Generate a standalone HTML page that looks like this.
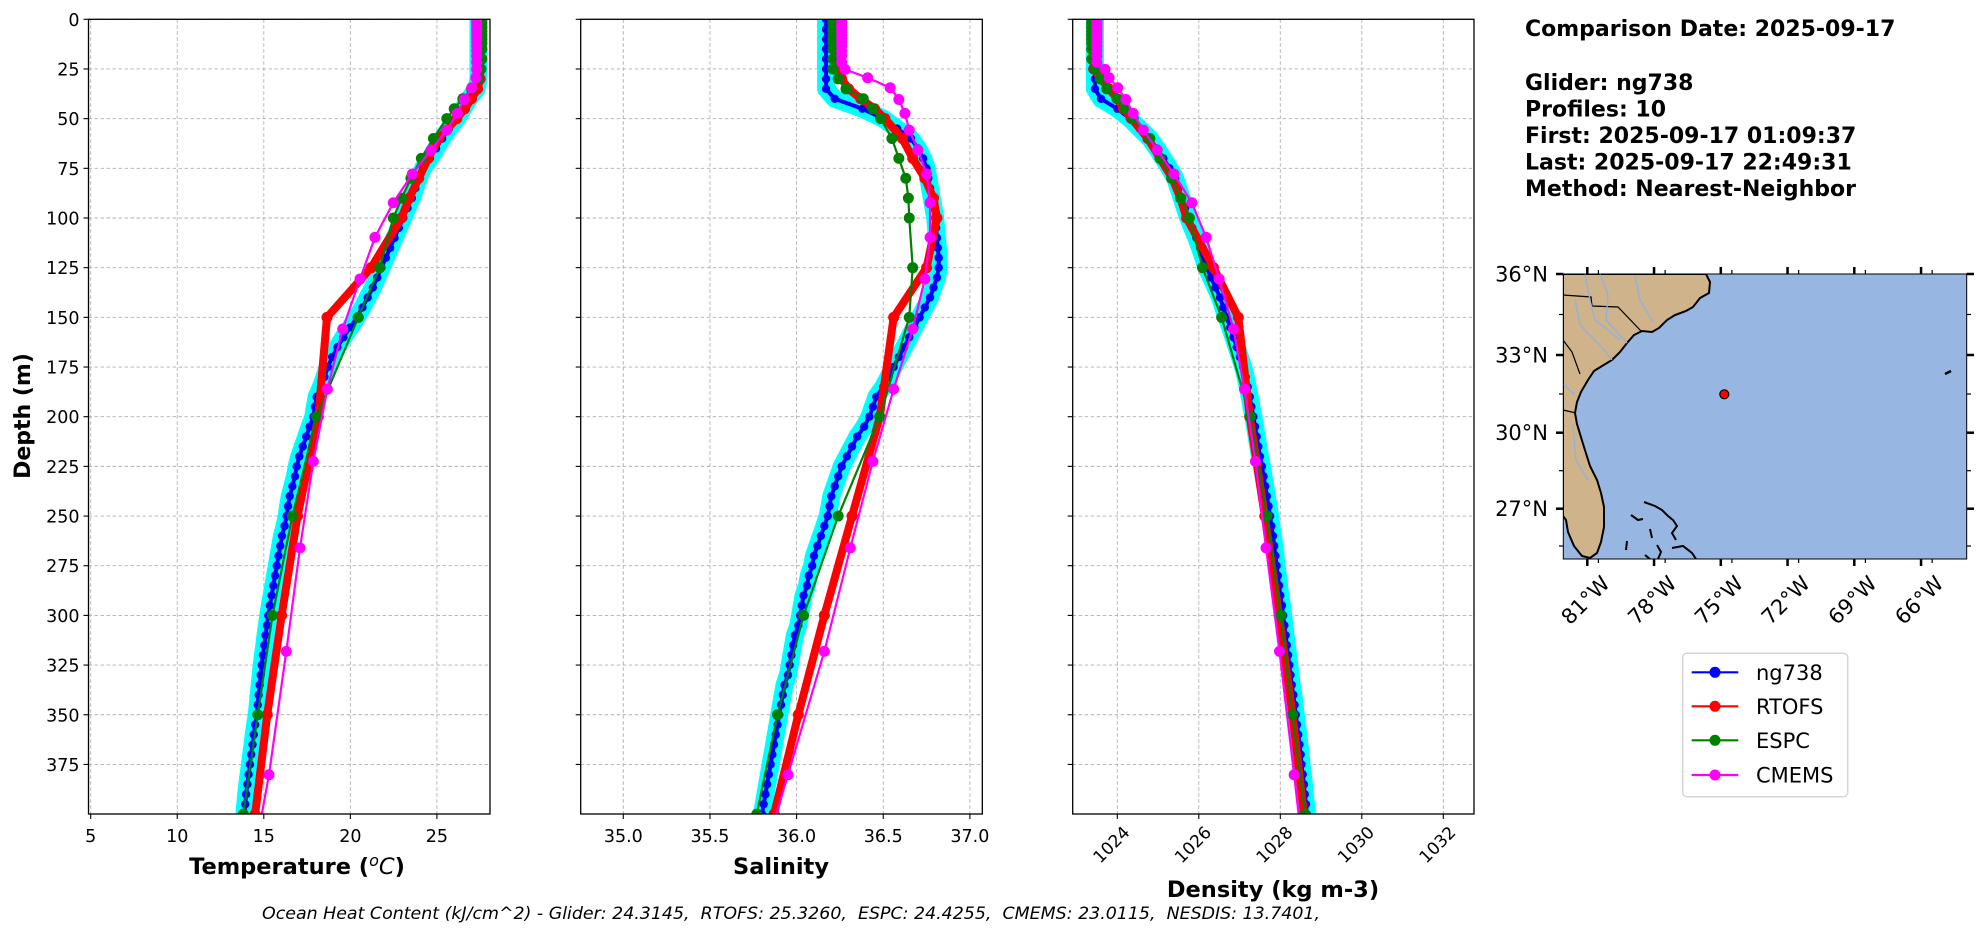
<!DOCTYPE html>
<html><head><meta charset="utf-8"><style>
html,body{margin:0;padding:0;background:#fff;}
svg{display:block;font-family:"DejaVu Sans","Liberation Sans",sans-serif;}
</style></head><body>
<svg id="fig" width="1978" height="934" viewBox="0 0 1978 934" xmlns="http://www.w3.org/2000/svg">
<defs>
<clipPath id="clip0"><rect x="88.5" y="19.3" width="401.5" height="794.7"/></clipPath>
<clipPath id="clip1"><rect x="580.7" y="19.3" width="401.6" height="794.7"/></clipPath>
<clipPath id="clip2"><rect x="1072.7" y="19.3" width="401.3" height="794.7"/></clipPath>
<clipPath id="clipmap"><rect x="1563.3" y="274" width="403.4" height="285"/></clipPath>
</defs>
<g id="panels"></g>
<text transform="translate(30,416) rotate(-90)" text-anchor="middle" font-size="22" font-weight="bold">Depth (m)</text>
<text x="297" y="874" text-anchor="middle" font-size="22.5" font-weight="bold">Temperature (<tspan font-style="italic" font-weight="normal" dy="-8" font-size="16">o</tspan><tspan dy="8" font-style="italic" font-weight="normal">C</tspan>)</text>
<text x="781" y="874" text-anchor="middle" font-size="22.5" font-weight="bold">Salinity</text>
<text x="1273" y="897" text-anchor="middle" font-size="22.5" font-weight="bold">Density (kg m-3)</text>
<text x="262" y="919" font-size="16.5" font-style="italic" xml:space="preserve" style="white-space:pre" textLength="1058" lengthAdjust="spacingAndGlyphs">Ocean Heat Content (kJ/cm^2) - Glider: 24.3145,  RTOFS: 25.3260,  ESPC: 24.4255,  CMEMS: 23.0115,  NESDIS: 13.7401,</text>
<g font-size="22" font-weight="bold">
<text x="1525" y="36">Comparison Date: 2025-09-17</text>
<text x="1525" y="90">Glider: ng738</text>
<text x="1525" y="116.5">Profiles: 10</text>
<text x="1525" y="143">First: 2025-09-17 01:09:37</text>
<text x="1525" y="169.5">Last: 2025-09-17 22:49:31</text>
<text x="1525" y="196">Method: Nearest-Neighbor</text>
</g>
<g id="map">
<g clip-path="url(#clipmap)">
<rect x="1563.3" y="274" width="403.4" height="285" fill="#97b6e1"/>
<path fill="#cfb38a" stroke="#000" stroke-width="2" d="M1563,274 L1706,274 L1710,282 L1709,293 L1700,298 L1693,307 L1686,311 L1675,315 L1667,320 L1659,328 L1652,332 L1642,331 L1634,335 L1627,343 L1620,352 L1612,360 L1602,366 L1594,371 L1588,380 L1581,392 L1577,402 L1575,413 L1577,424 L1580,434 L1584,447 L1590,466 L1597,480 L1601,493 L1604,507 L1604,527 L1601,542 L1597,553 L1590,558 L1582,556 L1574,546 L1568,532 L1566,520 L1563,516 Z"/>
<path fill="none" stroke="#000" stroke-width="1.2" d="M1563,295 L1591,297 L1592,306 L1618,307 L1641,331 M1563,340 L1572,352 L1580,374 M1563,410 L1576,413"/>
<path fill="none" stroke="#8fb1e0" stroke-width="1.3" d="M1600,274 L1608,295 L1606,320 L1627,343 M1575,300 L1580,325 L1600,345 L1612,360 M1585,274 L1590,300 L1595,320 L1620,340 M1635,276 L1640,300 L1653,322 M1563,384 L1575,395 M1573,425 L1576,460 L1588,480"/>
<path fill="none" stroke="#000" stroke-width="2" d="M1644,502 L1655,506 L1662,510 L1668,516 L1673,520 L1677,526 L1672,533 L1676,540 M1631,515 L1638,520 L1643,519 M1650,529 L1652,538 M1627,541 L1626,550 M1657,545 L1661,552 L1658,559 M1672,548 L1683,546 L1692,553 L1696,559 M1645,555 L1650,559"/>
<path stroke="#000" stroke-width="2.5" d="M1945,374 L1951,371"/>
<circle cx="1724.3" cy="394.3" r="4.5" fill="#ff0000" stroke="#000" stroke-width="1.2"/>
</g>
<rect x="1563.3" y="274" width="403.4" height="285" fill="none" stroke="#000" stroke-width="1"/>
<g id="mapticks"></g>
</g>
<g>
<rect x="1682.7" y="653.3" width="165" height="143.4" rx="4" fill="#fff" stroke="#d6d6d6" stroke-width="1.5"/>
<g id="legend-items"></g>
</g>
</svg>
<script>
// ---------- data ----------
var depthTicks = [0,25,50,75,100,125,150,175,200,225,250,275,300,325,350,375];
var tempTicks = [5,10,15,20,25];
var salTicks = [35.0,35.5,36.0,36.5,37.0];
var salTickLabels = ["35.0","35.5","36.0","36.5","37.0"];
var denTicks = [1024,1026,1028,1030,1032];

var gliderDepth = [0,5,10,15,20,25,30,35,40,45,50,55,60,65,70,75,80,85,90,95,100,105,110,115,120,125,130,135,140,145,150,155,160,165,170,175,180,185,190,195,200,205,210,215,220,225,230,235,240,245,250,255,260,265,270,275,280,285,290,295,300,305,310,315,320,325,330,335,340,345,350,355,360,365,370,375,380,385,390,395,400];
var gliderTemp = [27.4,27.4,27.4,27.4,27.4,27.4,27.4,27.3,26.85,26.5,26.15,25.7,25.3,24.95,24.6,24.2,23.95,23.75,23.55,23.3,23.06,22.8,22.55,22.3,22.05,21.8,21.55,21.3,21.0,20.7,20.37,20.0,19.6,19.25,18.95,18.7,18.5,18.3,18.05,17.95,17.86,17.65,17.45,17.25,17.05,16.9,16.8,16.65,16.5,16.4,16.32,16.2,16.05,15.95,15.85,15.75,15.65,15.55,15.45,15.35,15.26,15.18,15.1,15.03,14.95,14.88,14.82,14.76,14.7,14.65,14.59,14.5,14.42,14.35,14.27,14.2,14.12,14.05,13.98,13.93,13.88];
var gliderSal = [36.17,36.17,36.17,36.17,36.17,36.17,36.17,36.17,36.22,36.38,36.50,36.58,36.66,36.70,36.73,36.75,36.76,36.77,36.78,36.79,36.80,36.805,36.81,36.815,36.82,36.82,36.81,36.79,36.77,36.74,36.71,36.68,36.65,36.62,36.59,36.56,36.53,36.50,36.46,36.44,36.42,36.39,36.35,36.32,36.29,36.26,36.24,36.22,36.20,36.19,36.18,36.16,36.14,36.12,36.10,36.09,36.07,36.06,36.04,36.03,36.02,36.01,35.99,35.98,35.97,35.96,35.95,35.93,35.92,35.91,35.90,35.89,35.88,35.87,35.86,35.85,35.84,35.83,35.82,35.81,35.80];
var gliderDen = [1023.45,1023.45,1023.45,1023.45,1023.45,1023.45,1023.45,1023.45,1023.6,1024.0,1024.31,1024.55,1024.8,1024.97,1025.13,1025.28,1025.42,1025.5,1025.58,1025.66,1025.74,1025.84,1025.94,1026.03,1026.11,1026.19,1026.3,1026.41,1026.52,1026.6,1026.68,1026.77,1026.85,1026.93,1027.01,1027.09,1027.15,1027.2,1027.25,1027.29,1027.34,1027.38,1027.42,1027.46,1027.5,1027.55,1027.59,1027.63,1027.67,1027.71,1027.75,1027.78,1027.82,1027.85,1027.88,1027.91,1027.94,1027.97,1028.0,1028.04,1028.07,1028.1,1028.13,1028.16,1028.19,1028.22,1028.25,1028.28,1028.32,1028.35,1028.38,1028.41,1028.44,1028.47,1028.5,1028.52,1028.55,1028.58,1028.6,1028.63,1028.65];

var rtofsDepth = [0,2,4,6,8,10,12,15,20,25,30,35,40,45,50,60,70,80,90,100,125,150,200,250,300,350,400];
var rtofsTemp = [27.5,27.5,27.5,27.5,27.5,27.5,27.5,27.5,27.5,27.5,27.5,27.35,27.0,26.6,26.15,25.1,24.5,23.95,23.4,22.95,21.2,18.65,18.15,16.95,16.03,15.2,14.5];
var rtofsSal = [36.24,36.24,36.24,36.24,36.24,36.24,36.24,36.24,36.24,36.24,36.26,36.3,36.37,36.45,36.51,36.61,36.67,36.74,36.79,36.81,36.75,36.56,36.48,36.32,36.16,36.01,35.87];
var rtofsDen = [1023.42,1023.42,1023.42,1023.42,1023.42,1023.42,1023.42,1023.42,1023.42,1023.42,1023.6,1023.8,1024.0,1024.15,1024.35,1024.75,1025.05,1025.35,1025.55,1025.70,1026.36,1026.97,1027.25,1027.62,1027.97,1028.30,1028.58];

var espcDepth = [0,2,4,6,8,10,12,15,20,25,30,35,40,45,50,60,70,80,90,100,125,150,200,250,300,350,400];
var espcTemp = [27.6,27.6,27.6,27.6,27.6,27.6,27.6,27.6,27.6,27.55,27.4,27.0,26.5,26.0,25.57,24.8,24.1,23.5,22.96,22.48,21.7,20.46,18.05,16.65,15.5,14.65,13.82];
var espcSal = [36.21,36.21,36.21,36.21,36.21,36.21,36.21,36.21,36.21,36.21,36.24,36.285,36.385,36.44,36.485,36.55,36.59,36.63,36.645,36.65,36.67,36.65,36.48,36.24,36.04,35.89,35.77];
var espcDen = [1023.37,1023.37,1023.37,1023.37,1023.37,1023.37,1023.37,1023.37,1023.37,1023.45,1023.58,1023.74,1023.99,1024.19,1024.39,1024.80,1025.05,1025.33,1025.56,1025.77,1026.09,1026.56,1027.26,1027.67,1028.01,1028.30,1028.61];

var cmemsDepth = [0.49,1.54,2.65,3.82,5.08,6.44,7.93,9.57,11.4,13.47,15.81,18.5,21.6,25.21,29.44,34.43,40.34,47.37,55.76,65.81,77.85,92.33,109.73,130.67,155.85,186.13,222.48,266.04,318.13,380.21,453.94];
var cmemsTemp = [27.3,27.3,27.3,27.3,27.3,27.3,27.3,27.3,27.3,27.3,27.3,27.3,27.3,27.3,27.25,27.01,26.58,26.18,25.57,24.66,23.58,22.48,21.42,20.56,19.56,18.67,17.86,17.09,16.3,15.3,13.75];
var cmemsSal = [36.26,36.26,36.26,36.26,36.26,36.26,36.26,36.26,36.26,36.26,36.26,36.26,36.26,36.28,36.41,36.54,36.59,36.625,36.65,36.70,36.75,36.77,36.77,36.74,36.67,36.56,36.44,36.31,36.16,35.95,35.7];
var cmemsDen = [1023.5,1023.5,1023.5,1023.5,1023.5,1023.5,1023.5,1023.5,1023.5,1023.5,1023.5,1023.5,1023.5,1023.7,1023.8,1024.01,1024.21,1024.39,1024.64,1024.98,1025.39,1025.83,1026.18,1026.50,1026.85,1027.12,1027.39,1027.65,1027.98,1028.34,1028.75];

var legendLabels = ["ng738","RTOFS","ESPC","CMEMS"];
var mapLatTicks = [36,33,30,27];
var mapLonTicks = [-81,-78,-75,-72,-69,-66];

// ---------- axes ----------
var NS = "http://www.w3.org/2000/svg";
var Y0 = 19.3, YB = 814, YS = 1.987;
function yD(d){ return Y0 + d*YS; }
var panels = [
 {name:"temperature", left:88.5, right:490, ref:5, refPx:90.7, k:17.31, ticks:tempTicks, labels:tempTicks.map(String), rot:false, clip:"clip0",
  series:[gliderTemp, rtofsTemp, espcTemp, cmemsTemp]},
 {name:"salinity", left:580.7, right:982.3, ref:35, refPx:623.3, k:173.3, ticks:salTicks, labels:salTickLabels, rot:false, clip:"clip1",
  series:[gliderSal, rtofsSal, espcSal, cmemsSal]},
 {name:"density", left:1072.7, right:1474, ref:1024, refPx:1117.3, k:40.75, ticks:denTicks, labels:denTicks.map(String), rot:true, clip:"clip2",
  series:[gliderDen, rtofsDen, espcDen, cmemsDen]}
];
function mk(tag, attrs, parent){ var e=document.createElementNS(NS,tag); for(var a in attrs) e.setAttribute(a, attrs[a]); if(parent) parent.appendChild(e); return e; }
function pts(xs, ds, fx){ var s=[]; for(var i=0;i<xs.length && i<ds.length;i++) s.push(fx(xs[i]).toFixed(2)+","+yD(ds[i]).toFixed(2)); return s.join(" "); }

var root = document.getElementById("panels");
panels.forEach(function(p, pi){
  var fx = function(v){ return p.refPx + (v - p.ref)*p.k; };
  var g = mk("g", {}, root);
  
  
  var grid = mk("g", {stroke:"#b0b0b0","stroke-width":"0.9","stroke-dasharray":"3.5,2.5",fill:"none"}, g);
  
  
  p.ticks.forEach(function(t){ var x=fx(t); mk("line",{x1:x,x2:x,y1:Y0,y2:YB},grid); });
  depthTicks.forEach(function(d){ var y=yD(d); mk("line",{x1:p.left,x2:p.right,y1:y,y2:y},grid); });
  var sg = mk("g", {"clip-path":"url(#"+p.clip+")"}, g);
  
  
  var cy = mk("polyline", {points:pts(p.series[0], gliderDepth, fx), fill:"none", stroke:"#00ffff","stroke-width":"18","stroke-linejoin":"round","stroke-linecap":"round"}, sg);
  
  
  var defs = [
    {key:"glider", color:"#0000ff", lw:4, r:4.2, data:p.series[0], dep:gliderDepth},
    {key:"rtofs", color:"#ff0000", lw:8, r:5.5, data:p.series[1], dep:rtofsDepth},
    {key:"espc", color:"#008000", lw:2.2, r:5.5, data:p.series[2], dep:espcDepth},
    {key:"cmems", color:"#ff00ff", lw:2.2, r:5.5, data:p.series[3], dep:cmemsDepth}
  ];
  defs.forEach(function(s){
    var sgg = mk("g", {}, sg);
    
    
    var line = mk("polyline", {points:pts(s.data, s.dep, fx), fill:"none", stroke:s.color, "stroke-width":s.lw, "stroke-linejoin":"round"}, sgg);
    
    
    for (var i=0;i<s.data.length && i<s.dep.length;i++){
      var c = mk("circle", {cx:fx(s.data[i]).toFixed(2), cy:yD(s.dep[i]).toFixed(2), r:s.r, fill:s.color}, sgg);
      
      
    }
  });
  var fr = mk("rect", {x:p.left, y:Y0, width:p.right-p.left, height:YB-Y0, fill:"none", stroke:"#000", "stroke-width":"1.3"}, g);
  
  
  var xt = mk("g", {}, g);
  
  
  p.ticks.forEach(function(t, i){
    var x=fx(t);
    mk("line",{x1:x,x2:x,y1:YB,y2:YB+5,stroke:"#000","stroke-width":"1.1"},xt);
    var tx;
    if (p.rot){
      tx = mk("text",{x:x+5, y:YB+11, "font-size":"17", "text-anchor":"end", transform:"rotate(-45 "+(x+5)+" "+(YB+11)+")", "dominant-baseline":"hanging"},xt);
    } else {
      tx = mk("text",{x:x, y:YB+28, "font-size":"17.5", "text-anchor":"middle"},xt);
    }
    tx.textContent = p.labels[i];
    
    
  });
  var yt = mk("g", {}, g);
  
  
  depthTicks.forEach(function(d){
    var y=yD(d);
    mk("line",{x1:p.left-5,x2:p.left,y1:y,y2:y,stroke:"#000","stroke-width":"1.1"},yt);
    if (pi===0){
      var tx = mk("text",{x:p.left-9, y:y+6.5, "font-size":"17.5", "text-anchor":"end"},yt);
      tx.textContent = String(d);
      
      
    }
  });
});

// ---------- map ticks ----------
var mt = document.getElementById("mapticks");
var latY = {36:274, 33:355, 30:432.7, 27:508.7};
function lonX(lon){ return 1587.3 + (lon + 81)*22.25; }
mapLatTicks.forEach(function(lat){
  var y = latY[lat];
  mk("line",{x1:1556,x2:1563.3,y1:y,y2:y,stroke:"#000","stroke-width":"2.5"},mt);
  mk("line",{x1:1966.7,x2:1974,y1:y,y2:y,stroke:"#000","stroke-width":"2.5"},mt);
  var tx = mk("text",{x:1548, y:y+7.5, "font-size":"21", "text-anchor":"end"},mt);
  tx.textContent = lat + "°N";
  
  
});
[314.5,394,470.7,546].forEach(function(y){
  mk("line",{x1:1559,x2:1563.3,y1:y,y2:y,stroke:"#000","stroke-width":"1.2"},mt);
  mk("line",{x1:1966.7,x2:1971,y1:y,y2:y,stroke:"#000","stroke-width":"1.2"},mt);
});
mapLonTicks.forEach(function(lon){
  var x = lonX(lon);
  mk("line",{x1:x,x2:x,y1:559,y2:566,stroke:"#000","stroke-width":"2.5"},mt);
  mk("line",{x1:x,x2:x,y1:267,y2:274,stroke:"#000","stroke-width":"2.5"},mt);
  var mx = x + 11.1;
  mk("line",{x1:mx,x2:mx,y1:559,y2:563,stroke:"#000","stroke-width":"1.2"},mt);
  mk("line",{x1:mx,x2:mx,y1:270,y2:274,stroke:"#000","stroke-width":"1.2"},mt);
  var ax = x + 13, ay = 574;
  var tx = mk("text",{x:ax, y:ay, "font-size":"21", "text-anchor":"end", "dominant-baseline":"hanging", transform:"rotate(-45 "+ax+" "+ay+")"},mt);
  tx.textContent = Math.abs(lon) + "°W";
  
  
});

// ---------- legend ----------
var lg = document.getElementById("legend-items");
var legendColors = ["#0000ff","#ff0000","#008000","#ff00ff"];
var legendY = [672.3, 706.3, 740.3, 775];
legendLabels.forEach(function(lab, i){
  var gi = mk("g", {}, lg);
  
  
  var y = legendY[i];
  mk("line",{x1:1691.7,x2:1738.3,y1:y,y2:y,stroke:legendColors[i],"stroke-width":"2.2"},gi);
  mk("circle",{cx:1715,cy:y,r:5.5,fill:legendColors[i]},gi);
  var tx = mk("text",{x:1756, y:y+7.5, "font-size":"21"},gi);
  tx.textContent = lab;
});
</script>
</body></html>
